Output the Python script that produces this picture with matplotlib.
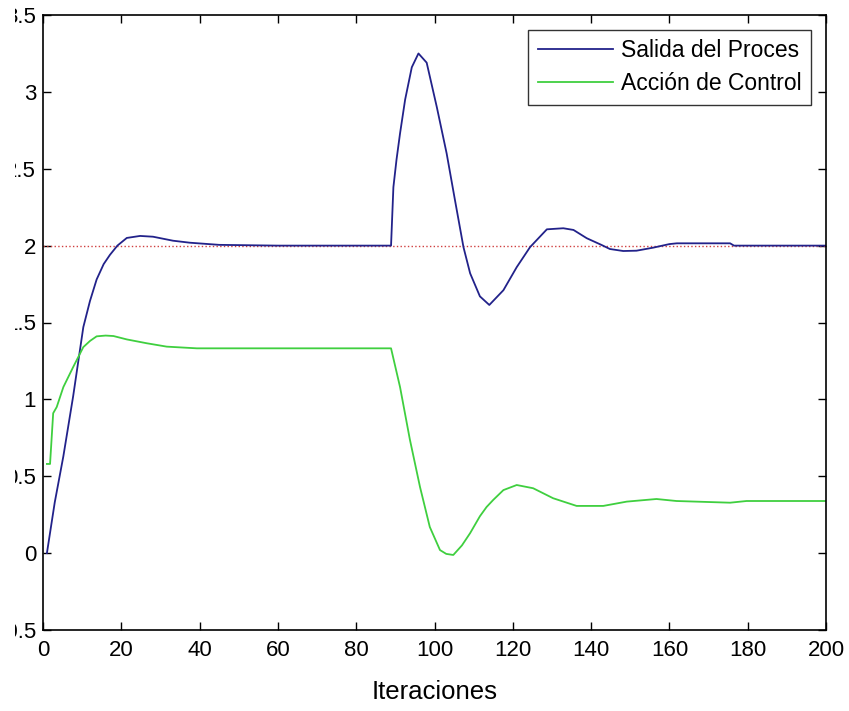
import matplotlib
matplotlib.use('Agg')
import matplotlib.pyplot as plt
from matplotlib.transforms import Bbox, TransformedBbox

plt.rcParams['font.family'] = ['Liberation Sans', 'DejaVu Sans']
plt.rcParams['axes.unicode_minus'] = False

# Salida del proceso
salida_x = [1, 3, 5.2, 7.7, 10.3, 12, 13.7, 15.5, 17.1, 19, 21.4, 24.8, 28.1, 33.2, 37.5, 45, 60, 88.9,
            89.5, 90.3, 91.2, 92.5, 94.2, 95.9, 98.0, 100.6, 103.1, 105.2, 107.4, 109.1, 111.6, 114.0,
            117.6, 121.0, 124.4, 128.7, 132.9, 135.5, 138.9, 142.7, 144.8, 148.2, 151.6, 155.9, 160,
            161.9, 175.5, 176.5, 200]
salida_y = [0.0, 0.33, 0.63, 1.02, 1.47, 1.64, 1.78, 1.88, 1.94, 2.0, 2.05, 2.063, 2.058, 2.032, 2.019, 2.005, 2.0, 2.0,
            2.38, 2.56, 2.73, 2.95, 3.16, 3.25, 3.19, 2.90, 2.60, 2.30, 1.99, 1.82, 1.67, 1.614,
            1.71, 1.86, 1.99, 2.106, 2.113, 2.102, 2.048, 2.004, 1.978, 1.965, 1.967, 1.987, 2.01,
            2.015, 2.015, 2.0, 2.0]

# Accion de control
control_x = [1, 1.8, 2.6, 3.5, 5.2, 7.7, 10.3, 12, 13.7, 16, 18, 21.4, 26.5, 31.6, 39.3, 60, 88.9,
             91.2, 93.7, 96.3, 98.8, 101.4, 103, 104.8, 107, 109.1, 111.6, 113.3, 115, 117.6, 121,
             125.2, 130.3, 136.3, 143.1, 149.1, 156.7, 161.8, 175.5, 179.7, 200]
control_y = [0.58, 0.58, 0.91, 0.95, 1.08, 1.21, 1.34, 1.38, 1.41, 1.415, 1.412, 1.39, 1.365, 1.343, 1.332, 1.332, 1.332,
             1.08, 0.74, 0.43, 0.17, 0.02, -0.005, -0.012, 0.05, 0.13, 0.24, 0.30, 0.346, 0.41, 0.443,
             0.422, 0.357, 0.307, 0.307, 0.335, 0.352, 0.339, 0.328, 0.339, 0.339]

referencia = 2.0

fig = plt.figure(figsize=(8.49, 7.11), dpi=100)
ax = fig.add_axes([43 / 849, 1 - 630 / 711, 783 / 849, 615 / 711])

ax.axhline(referencia, color='#d04040', linestyle=':', linewidth=1.0)
ax.plot(salida_x, salida_y, color='#22228a', linewidth=1.3, label='Salida del Proces')
ax.plot(control_x, control_y, color='#3fcf3f', linewidth=1.3, label='Acción de Control')

ax.set_xlim(0, 200)
ax.set_ylim(-0.5, 3.5)
ax.set_xticks(range(0, 201, 20))
ax.set_yticks([-0.5, 0, 0.5, 1, 1.5, 2, 2.5, 3, 3.5])
ax.set_yticklabels(['-0.5', '0', '0.5', '1', '1.5', '2', '2.5', '3', '3.5'])
ax.tick_params(direction='in', length=6, width=1, top=True, right=True, labelsize=16, pad=7)
ax.tick_params(axis='y', pad=5)
for s in ax.spines.values():
    s.set_linewidth(1.2)

ax.set_xlabel('Iteraciones', fontsize=18.5, labelpad=14)

leg = ax.legend(loc='upper right', fontsize=16.5, frameon=True, fancybox=False,
                edgecolor='black', handlelength=3.3, borderpad=0.4, labelspacing=0.45,
                handletextpad=0.35, borderaxespad=0.65)
leg.get_frame().set_linewidth(1.0)

# the original picture is cropped on the left: leading digits cut off
clip = TransformedBbox(Bbox([[15 / 849, 0], [1, 1]]), fig.transFigure)
for lab in ax.get_yticklabels():
    lab.set_clip_box(clip)
    lab.set_clip_on(True)

fig.savefig('out.png', dpi=100)
